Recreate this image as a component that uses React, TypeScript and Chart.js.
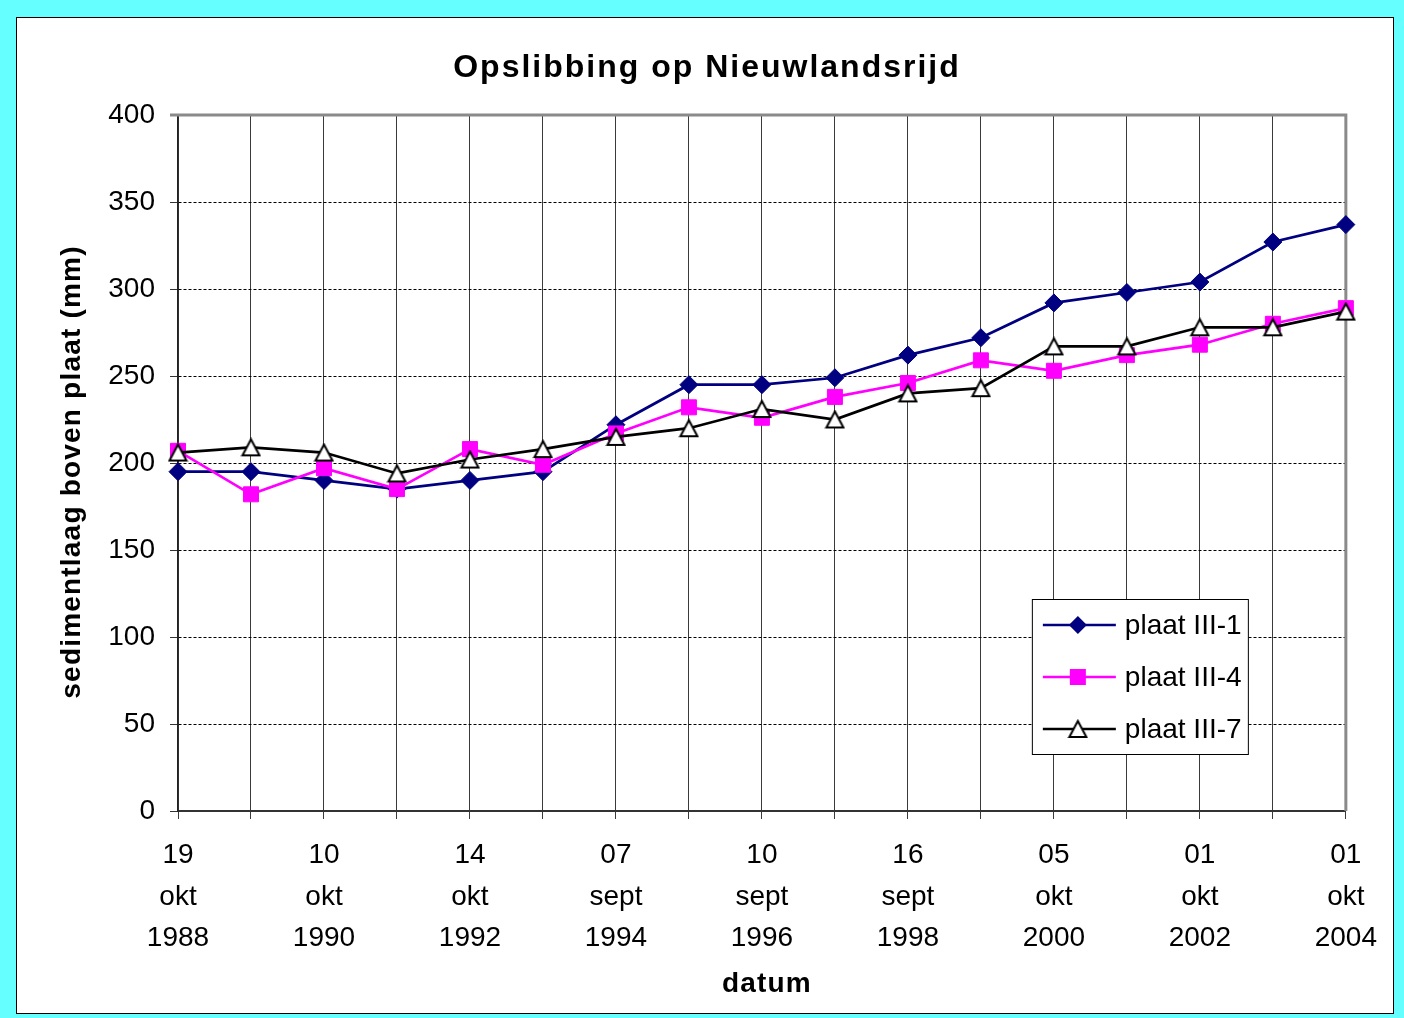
import React, { useEffect, useRef } from 'react';
import { Chart, registerables } from 'chart.js';

Chart.register(...registerables);

// ---------- data ----------
const chartTitle = 'Opslibbing op Nieuwlandsrijd';
const yAxisTitle = 'sedimentlaag boven plaat (mm)';
const xAxisTitle = 'datum';

const dateLabels = [
  '19 okt 1988', '', '10 okt 1990', '', '14 okt 1992', '', '07 sept 1994', '',
  '10 sept 1996', '', '16 sept 1998', '', '05 okt 2000', '', '01 okt 2002', '', '01 okt 2004',
];
const seriesNames = ['plaat III-1', 'plaat III-4', 'plaat III-7'];
const plaat1 = [195, 195, 190, 185, 190, 195, 222, 245, 245, 249, 262, 272, 292, 298, 304, 327, 337];
const plaat4 = [207, 182, 197, 185, 208, 199, 217, 232, 226, 238, 246, 259, 253, 262, 268, 280, 289];
const plaat7 = [206, 209, 206, 194, 202, 208, 215, 220, 231, 225, 240, 243, 267, 267, 278, 278, 287];
const yMin = 0;
const yMax = 400;
const yStep = 50;

const FONT = '"Liberation Sans", Arial, sans-serif';
const NAVY = '#000080';
const MAGENTA = '#FF00FF';

function makeTriangle(): HTMLCanvasElement {
  const c = document.createElement('canvas');
  c.width = 21;
  c.height = 20;
  const g = c.getContext('2d') as CanvasRenderingContext2D;
  g.beginPath();
  g.moveTo(10.5, 2);
  g.lineTo(19, 18);
  g.lineTo(2, 18);
  g.closePath();
  g.fillStyle = '#ffffff';
  g.fill();
  g.lineWidth = 2;
  g.strokeStyle = '#000000';
  g.stroke();
  return c;
}

export default function App() {
  const ref = useRef<HTMLCanvasElement | null>(null);

  useEffect(() => {
    const canvas = ref.current;
    if (!canvas) return;
    const tri = makeTriangle();

    const decor = {
      id: 'decor',
      beforeDatasetsDraw(chart: any) {
        const { ctx, chartArea: a } = chart;
        ctx.save();
        ctx.strokeStyle = '#8a8a8a';
        ctx.lineWidth = 3;
        ctx.beginPath();
        ctx.moveTo(a.left - 8, a.top);
        ctx.lineTo(a.right, a.top);
        ctx.lineTo(a.right, a.bottom);
        ctx.stroke();
        ctx.restore();
      },
      afterDraw(chart: any) {
        const { ctx, chartArea: a } = chart;
        ctx.save();
        // main title
        ctx.fillStyle = '#000';
        ctx.textAlign = 'center';
        ctx.textBaseline = 'middle';
        ctx.font = `bold 32px ${FONT}`;
        (ctx as any).letterSpacing = '2px';
        ctx.fillText(chartTitle, chart.width / 2 + 2, 50);
        // x title
        ctx.font = `bold 28px ${FONT}`;
        (ctx as any).letterSpacing = '1.2px';
        ctx.fillText(xAxisTitle, (a.left + a.right) / 2 + 5, 966);
        // y title
        ctx.save();
        ctx.translate(55, (a.top + a.bottom) / 2 + 9);
        ctx.rotate(-Math.PI / 2);
        ctx.fillText(yAxisTitle, 0, 0);
        ctx.restore();
        (ctx as any).letterSpacing = '0px';

        // legend
        const lx = a.right - 314;
        const ly = a.bottom - 212;
        const lw = 216;
        const lh = 155;
        ctx.fillStyle = '#fff';
        ctx.fillRect(lx, ly, lw, lh);
        ctx.strokeStyle = '#000';
        ctx.lineWidth = 1;
        ctx.strokeRect(lx + 0.5, ly + 0.5, lw, lh);
        const rows = [26, 78, 130];
        const colors = [NAVY, MAGENTA, '#000'];
        ctx.font = `28px ${FONT}`;
        ctx.textAlign = 'left';
        ctx.textBaseline = 'middle';
        rows.forEach((dy, i) => {
          const y = ly + dy;
          ctx.strokeStyle = colors[i];
          ctx.lineWidth = 2.5;
          ctx.beginPath();
          ctx.moveTo(lx + 11, y);
          ctx.lineTo(lx + 84, y);
          ctx.stroke();
          const mx = lx + 46;
          if (i === 0) {
            ctx.fillStyle = NAVY;
            ctx.beginPath();
            ctx.moveTo(mx, y - 9);
            ctx.lineTo(mx + 9, y);
            ctx.lineTo(mx, y + 9);
            ctx.lineTo(mx - 9, y);
            ctx.closePath();
            ctx.fill();
          } else if (i === 1) {
            ctx.fillStyle = MAGENTA;
            ctx.fillRect(mx - 8, y - 8, 16, 16);
          } else {
            ctx.drawImage(tri, mx - tri.width / 2, y - tri.height / 2);
          }
          ctx.fillStyle = '#000';
          ctx.fillText(seriesNames[i], lx + 93, y + 1);
        });
        ctx.restore();
      },
    };

    const chart = new Chart(canvas, {
      type: 'line',
      data: {
        labels: dateLabels.map((s) => (s ? s.split(' ') : '')),
        datasets: [
          {
            label: seriesNames[0],
            data: plaat1,
            borderColor: NAVY,
            backgroundColor: NAVY,
            borderWidth: 2.7,
            pointStyle: 'rectRot',
            pointRadius: 9,
            pointBorderWidth: 1,
            pointBorderColor: NAVY,
            pointBackgroundColor: NAVY,
            tension: 0,
            order: 3,
          },
          {
            label: seriesNames[1],
            data: plaat4,
            borderColor: MAGENTA,
            backgroundColor: MAGENTA,
            borderWidth: 2.7,
            pointStyle: 'rect',
            pointRadius: 10.6,
            pointBorderWidth: 1,
            pointBorderColor: MAGENTA,
            pointBackgroundColor: MAGENTA,
            tension: 0,
            order: 2,
          },
          {
            label: seriesNames[2],
            data: plaat7,
            borderColor: '#000',
            backgroundColor: '#fff',
            borderWidth: 2.7,
            pointStyle: tri as any,
            pointRadius: 10,
            tension: 0,
            order: 1,
          },
        ],
      },
      options: {
        animation: false,
        responsive: false,
        maintainAspectRatio: false,
        devicePixelRatio: 1,
        layout: { padding: { top: 97, right: 46, left: 0, bottom: 0 } },
        plugins: {
          legend: { display: false },
          title: { display: false },
          tooltip: { enabled: false },
        },
        scales: {
          x: {
            type: 'category',
            offset: false,
            afterFit: (s: any) => {
              s.height = 202;
            },
            grid: {
              display: true,
              color: '#3a3a3a',
              lineWidth: 1,
              drawTicks: true,
              tickLength: 8,
              tickColor: '#3a3a3a',
              offset: false,
            },
            border: { display: true, color: '#333', width: 2 },
            ticks: {
              autoSkip: false,
              maxRotation: 0,
              minRotation: 0,
              padding: 16,
              color: '#000',
              font: { family: FONT, size: 28, lineHeight: 1.48 },
            },
          },
          y: {
            min: yMin,
            max: yMax,
            afterFit: (s: any) => {
              s.width = 161;
            },
            grid: {
              color: '#000',
              lineWidth: 1,
              drawTicks: true,
              tickLength: 8,
              tickColor: '#333',
              tickBorderDash: [],
            },
            border: { display: true, color: '#222', width: 1.5, dash: [3, 2] },
            ticks: {
              stepSize: yStep,
              padding: 15,
              color: '#000',
              font: { family: FONT, size: 28 },
            },
          },
        },
      },
      plugins: [decor],
    } as any);

    return () => chart.destroy();
  }, []);

  return (
    <div
      style={{
        position: 'absolute',
        left: 0,
        top: 0,
        width: 1404,
        height: 1018,
        background: '#66FFFF',
      }}
    >
      <div
        style={{
          position: 'absolute',
          left: 16,
          top: 17,
          width: 1378,
          height: 997,
          boxSizing: 'border-box',
          border: '1px solid #000',
          background: '#fff',
        }}
      >
        <canvas ref={ref} width={1376} height={995} style={{ display: 'block' }} />
      </div>
    </div>
  );
}
